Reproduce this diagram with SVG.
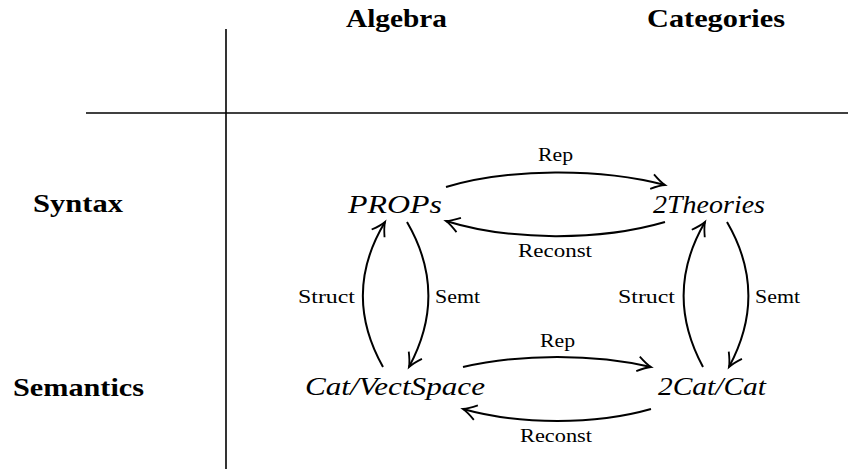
<svg xmlns="http://www.w3.org/2000/svg" width="848" height="469" viewBox="0 0 848 469">
  <style>
    .hdr { font-family: "Liberation Serif", "Times New Roman", serif; font-weight: bold; font-size: 26px; fill: #000; }
    .math { font-family: "Liberation Serif", "Times New Roman", serif; font-style: italic; font-size: 26px; fill: #000; }
    .lbl { font-family: "Liberation Serif", "Times New Roman", serif; font-size: 19px; fill: #000; }
    .rule { stroke: #000; stroke-width: 1.6; fill: none; }
    .edge { stroke: #000; stroke-width: 2; fill: none; marker-end: url(#arr); }
  </style>
  <defs>
    <marker id="arr" markerUnits="userSpaceOnUse" markerWidth="20" markerHeight="20" viewBox="-10 -6 12 12" refX="0" refY="0" orient="auto">
      <path d="M -8 -4.5 Q -3 -1 0 0 Q -3 1 -8 4.5" fill="none" stroke="#000" stroke-width="1.1"/>
    </marker>
  </defs>

  <g id="grid">
    <line class="rule" x1="226" y1="29" x2="226" y2="469"/>
    <line class="rule" x1="86" y1="113" x2="848" y2="113"/>
  </g>

  <g id="headers">
    <text class="hdr" x="346" y="27" textLength="101" lengthAdjust="spacingAndGlyphs">Algebra</text>
    <text class="hdr" x="647" y="27" textLength="138" lengthAdjust="spacingAndGlyphs">Categories</text>
    <text class="hdr" x="33" y="212" textLength="90" lengthAdjust="spacingAndGlyphs">Syntax</text>
    <text class="hdr" x="13" y="396" textLength="131" lengthAdjust="spacingAndGlyphs">Semantics</text>
  </g>

  <g id="props"><text class="math" x="348" y="213" textLength="94" lengthAdjust="spacingAndGlyphs">PROPs</text></g>
  <g id="theories2"><text class="math" x="653" y="213" textLength="112" lengthAdjust="spacingAndGlyphs">2Theories</text></g>
  <g id="catvect"><text class="math" x="305" y="395" textLength="180" lengthAdjust="spacingAndGlyphs">Cat/VectSpace</text></g>
  <g id="cat2"><text class="math" x="658" y="395" textLength="108" lengthAdjust="spacingAndGlyphs">2Cat/Cat</text></g>

  <g id="connectors">
    <path class="edge" d="M 446 187 C 510 168 600 168 665 185"/>
    <path class="edge" d="M 665 222 C 600 241 510 241 446 221"/>
    <path class="edge" d="M 463 367 C 520 353.5 595 353.5 651 367"/>
    <path class="edge" d="M 651 409 C 595 425 520 425 463 409"/>
    <path class="edge" d="M 383 367 C 356 319 356 270 385 222"/>
    <path class="edge" d="M 407 222 C 435 270 435 319 409 367"/>
    <path class="edge" d="M 703 367 C 677 319 677 270 705 222"/>
    <path class="edge" d="M 727 222 C 755 270 755 319 729 367"/>
  </g>

  <g id="labels">
    <text class="lbl" x="538" y="161" textLength="35" lengthAdjust="spacingAndGlyphs">Rep</text>
    <text class="lbl" x="518" y="257" textLength="74" lengthAdjust="spacingAndGlyphs">Reconst</text>
    <text class="lbl" x="298" y="303" textLength="57" lengthAdjust="spacingAndGlyphs">Struct</text>
    <text class="lbl" x="435" y="303" textLength="45" lengthAdjust="spacingAndGlyphs">Semt</text>
    <text class="lbl" x="618" y="303" textLength="57" lengthAdjust="spacingAndGlyphs">Struct</text>
    <text class="lbl" x="755" y="303" textLength="45" lengthAdjust="spacingAndGlyphs">Semt</text>
    <text class="lbl" x="540" y="347" textLength="35" lengthAdjust="spacingAndGlyphs">Rep</text>
    <text class="lbl" x="520" y="442" textLength="72" lengthAdjust="spacingAndGlyphs">Reconst</text>
  </g>
</svg>
